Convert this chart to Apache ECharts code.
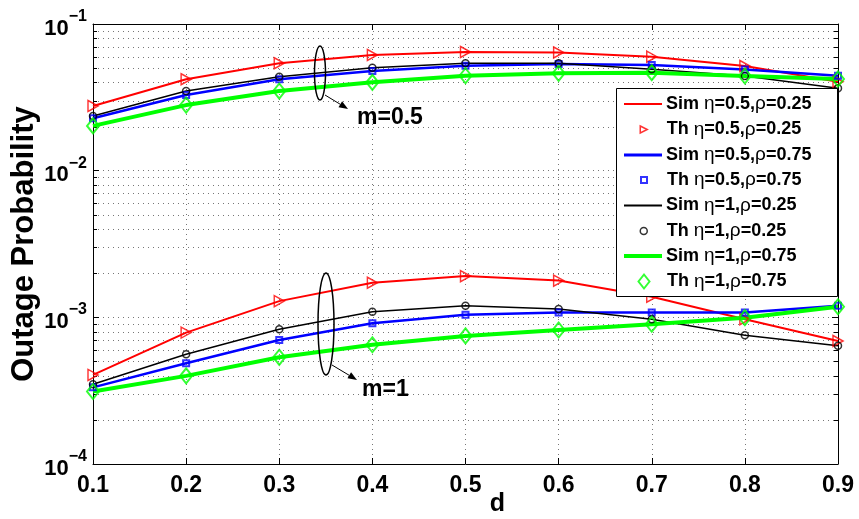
<!DOCTYPE html>
<html lang="en" style="height: 100%">
<head>
    <meta charset="utf-8">
</head>
<body style="height: 100%; margin: 0; background: #fff">
<div id="container" style="width: 859px; height: 519px"></div>
<script type="text/javascript" src="https://cdn.jsdelivr.net/npm/echarts@6/dist/echarts.min.js"></script>
<script type="text/javascript">

    // x values (d)
    const dValues = ['0.1', '0.2', '0.3', '0.4', '0.5', '0.6', '0.7', '0.8', '0.9'];

    // m = 0.5 group
    const redM05 = [0.0276, 0.042, 0.054, 0.0615, 0.0644, 0.064, 0.0599, 0.0517, 0.0404];
    const blueM05 = [0.0228, 0.0328, 0.042, 0.0478, 0.052, 0.0534, 0.0526, 0.049, 0.0444];
    const blackM05 = [0.0236, 0.0349, 0.0437, 0.0504, 0.054, 0.054, 0.0491, 0.0442, 0.0365];
    const greenM05 = [0.0202, 0.028, 0.0349, 0.04, 0.0444, 0.0461, 0.0466, 0.0442, 0.0422];

    // m = 1 group
    const redM1 = [4.05e-4, 7.87e-4, 1.29e-3, 1.72e-3, 1.91e-3, 1.78e-3, 1.38e-3, 9.7e-4, 6.9e-4];
    const blueM1 = [3.33e-4, 4.86e-4, 7.0e-4, 9.1e-4, 1.04e-3, 1.08e-3, 1.08e-3, 1.08e-3, 1.2e-3];
    const blackM1 = [3.5e-4, 5.6e-4, 8.3e-4, 1.09e-3, 1.2e-3, 1.14e-3, 9.7e-4, 7.55e-4, 6.4e-4];
    const greenM1 = [3.12e-4, 3.99e-4, 5.34e-4, 6.5e-4, 7.47e-4, 8.2e-4, 8.98e-4, 9.95e-4, 1.18e-3];

    const curveLabels = ['η=0.5,ρ=0.25', 'η=0.5,ρ=0.75', 'η=1,ρ=0.25', 'η=1,ρ=0.75'];

    // minor log grid lines (2..9 of each decade)
    const minorTicks = [];
    [1e-4, 1e-3, 1e-2].forEach(dec => {
        for (let k = 2; k <= 9; k++) minorTicks.push(+(dec * k).toPrecision(3));
    });

    const font = '"Liberation Sans", Arial, Helvetica, sans-serif';
    const triRight = 'path://M0,0 L10,5 L0,10 Z';

    const styles = [
        {color: '#ff0000', width: 2, symbol: triRight, size: [10, 11], border: 1.5, legendSize: [7, 8], m05: redM05, m1: redM1},
        {color: '#0000ff', width: 2.5, symbol: 'rect', size: 6, border: 2, legendSize: [6, 6], m05: blueM05, m1: blueM1},
        {color: '#000000', width: 1.5, symbol: 'circle', size: 7, border: 1.5, legendSize: [7, 7], m05: blackM05, m1: blackM1},
        {color: '#00ff00', width: 4, symbol: 'diamond', size: [12, 15], border: 2, legendSize: [11, 14], m05: greenM05, m1: greenM1}
    ];

    const dom = document.getElementById('container');
    const myChart = echarts.init(dom, null, {renderer: 'canvas'});

    const series = [{
        type: 'custom',
        silent: true,
        z: 1,
        data: minorTicks.map(v => [dValues[0], v]),
        encode: {x: 0, y: 1},
        renderItem: function (params, api) {
            const y = Math.round(api.coord([0, api.value(1)])[1]) + 0.5;
            const cs = params.coordSys;
            return {
                type: 'group',
                children: [
                    {type: 'line', shape: {x1: cs.x, y1: y, x2: cs.x + cs.width, y2: y},
                        style: {stroke: '#777', lineWidth: 1, lineDash: [1, 4]}},
                    {type: 'line', shape: {x1: cs.x, y1: y, x2: cs.x + 4, y2: y},
                        style: {stroke: '#000', lineWidth: 1}},
                    {type: 'line', shape: {x1: cs.x + cs.width - 4, y1: y, x2: cs.x + cs.width, y2: y},
                        style: {stroke: '#000', lineWidth: 1}}
                ]
            };
        }
    }];

    const legends = [];
    const legendRowCenters = [104, 129.5, 155, 180, 205.5, 231, 256, 281.5];
    const iconLeft = 624, iconWidth = 38, textLeft = 666;

    function legendText(padLeft) {
        return {
            fontFamily: font, fontWeight: 'bold', fontSize: 18, color: '#000', lineHeight: 20,
            padding: [0, 0, 0, padLeft],
            rich: {g: {fontFamily: font, fontWeight: 'normal', fontSize: 19, color: '#000'}}
        };
    }

    styles.forEach((s, i) => {
        const label = curveLabels[i];
        [s.m05, s.m1].forEach(arr => {
            const pts = dValues.map((x, j) => [x, arr[j]]);
            series.push({
                type: 'line', name: 'Sim ' + label, data: pts, symbol: 'none',
                lineStyle: {color: s.color, width: s.width},
                itemStyle: {color: s.color}, z: 2
            });
            series.push({
                type: 'scatter', name: 'Th ' + label, data: pts,
                symbol: s.symbol, symbolSize: s.size,
                itemStyle: {color: 'transparent', borderColor: s.color, borderWidth: s.border}, z: 3
            });
        });
        const fmt = n => n.replace(/([ηρ])/g, '{g|$1}');
        legends.push({
            left: iconLeft, top: legendRowCenters[2 * i] - 10, padding: 0, z: 6,
            itemWidth: iconWidth, itemHeight: Math.round(s.width),
            formatter: fmt, textStyle: legendText(textLeft - (iconLeft + iconWidth + 5)),
            data: [{name: 'Sim ' + label, icon: 'rect', itemStyle: {color: s.color, borderWidth: 0}}]
        });
        const w = s.legendSize[0], h = s.legendSize[1];
        const left = iconLeft + iconWidth / 2 - w / 2;
        legends.push({
            left: left, top: legendRowCenters[2 * i + 1] - 10, padding: 0, z: 6,
            itemWidth: w, itemHeight: h,
            formatter: fmt, textStyle: legendText(textLeft - (left + w + 5)),
            data: [{name: 'Th ' + label, icon: s.symbol,
                itemStyle: {color: 'transparent', borderColor: s.color, borderWidth: s.border}}]
        });
    });

    function arrow(x1, y1, x2, y2) {
        const len = Math.hypot(x2 - x1, y2 - y1);
        const ux = (x2 - x1) / len, uy = (y2 - y1) / len;
        const bx = x2 - 9 * ux, by = y2 - 9 * uy;
        return [
            {type: 'line', z: 10, shape: {x1: x1, y1: y1, x2: bx, y2: by}, style: {stroke: '#000', lineWidth: 1}},
            {type: 'polygon', z: 10, shape: {points: [[x2, y2], [bx - 3.5 * uy, by + 3.5 * ux], [bx + 3.5 * uy, by - 3.5 * ux]]},
                style: {fill: '#000'}}
        ];
    }

    const graphics = [
        {type: 'rect', z: 4, shape: {x: 616.5, y: 88.5, width: 221, height: 208},
            style: {fill: '#fff', stroke: '#000', lineWidth: 1}},
        {type: 'ellipse', z: 10, shape: {cx: 320, cy: 73, rx: 5.5, ry: 27},
            style: {fill: 'none', stroke: '#000', lineWidth: 1.5}},
        ...arrow(325, 95, 348, 109),
        {type: 'text', z: 10, x: 357, y: 118,
            style: {text: 'm=0.5', fill: '#000', font: 'bold 23px ' + font, verticalAlign: 'middle'}},
        {type: 'ellipse', z: 10, shape: {cx: 326, cy: 324, rx: 8, ry: 51},
            style: {fill: 'none', stroke: '#000', lineWidth: 1.5}},
        ...arrow(332, 365, 357, 380),
        {type: 'text', z: 10, x: 362, y: 390,
            style: {text: 'm=1', fill: '#000', font: 'bold 23px ' + font, verticalAlign: 'middle'}}
    ];

    const dotted = {show: true, lineStyle: {color: '#777', width: 1, type: [1, 4]}};
    const blackLine = {show: true, onZero: false, lineStyle: {color: '#000', width: 1}};
    const tickIn = {show: true, inside: true, length: 6, lineStyle: {color: '#000', width: 1}};
    const labelFont = {fontFamily: font, fontWeight: 'bold', color: '#000'};

    const option = {
        animation: false,
        backgroundColor: '#fff',
        grid: {left: 93, top: 24, right: 21, bottom: 55, containLabel: false, outerBoundsMode: 'none'},
        legend: legends,
        graphic: graphics,
        xAxis: [
            {
                type: 'category', data: dValues, boundaryGap: false, position: 'bottom',
                axisLine: blackLine, axisTick: tickIn, splitLine: dotted,
                axisLabel: Object.assign({fontSize: 23, margin: 10}, labelFont),
                name: 'd', nameLocation: 'middle', nameGap: 28, nameMoveOverlap: false,
                nameTextStyle: Object.assign({fontSize: 25, padding: [0, 0, 0, 64]}, labelFont)
            },
            {
                type: 'category', data: dValues, boundaryGap: false, position: 'top',
                axisLine: blackLine, axisTick: tickIn, axisLabel: {show: false}, splitLine: {show: false}
            }
        ],
        yAxis: [
            {
                type: 'log', logBase: 10, min: 1e-4, max: 1e-1, position: 'left',
                axisLine: blackLine, axisTick: tickIn, splitLine: dotted,
                axisLabel: {
                    margin: 6,
                    formatter: v => '{b|10}{s|−' + (-Math.round(Math.log10(v))) + '}',
                    rich: {
                        b: Object.assign({fontSize: 22, padding: [9, 0, 0, 0], verticalAlign: 'bottom'}, labelFont),
                        s: Object.assign({fontSize: 16, verticalAlign: 'top'}, labelFont)
                    }
                },
                name: 'Outage Probability', nameLocation: 'middle', nameRotate: 90, nameGap: 53,
                nameMoveOverlap: false,
                nameTextStyle: Object.assign({fontSize: 31}, labelFont)
            },
            {
                type: 'log', logBase: 10, min: 1e-4, max: 1e-1, position: 'right',
                axisLine: blackLine, axisTick: tickIn, axisLabel: {show: false}, splitLine: {show: false}
            }
        ],
        series: series
    };

    myChart.setOption(option);
    window.addEventListener('resize', myChart.resize);

</script>
</body>
</html>
